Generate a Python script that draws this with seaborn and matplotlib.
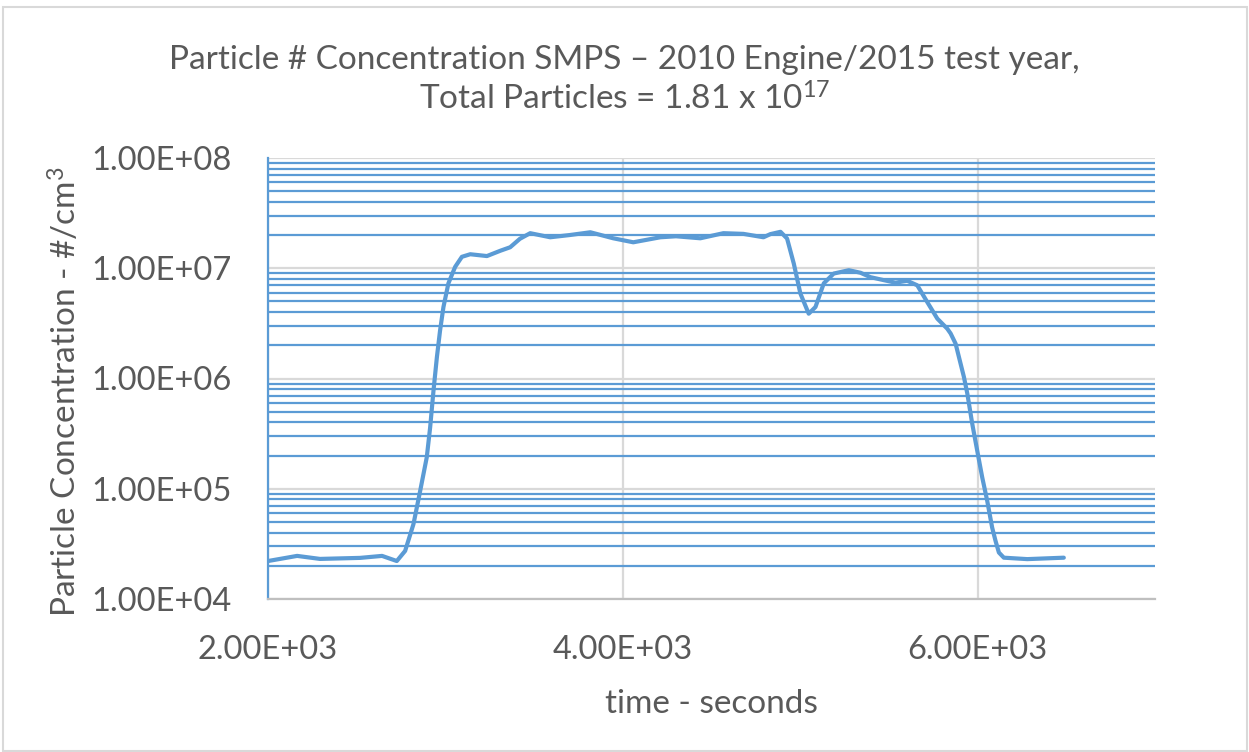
import numpy as np
import pandas as pd
import matplotlib
matplotlib.use("Agg")
import matplotlib.pyplot as plt
from matplotlib.ticker import LogLocator, FuncFormatter, FixedLocator
from matplotlib.patches import Rectangle
import seaborn as sns

# time (s) and particle concentration (#/cm3)
time_s = [2000, 2164, 2293, 2519, 2643, 2726, 2773, 2820, 2858, 2895,
          2914, 2933, 2952, 2970, 2989, 3017, 3055, 3093, 3140, 3196,
          3234, 3309, 3365, 3420, 3478, 3591, 3700, 3817, 3946, 4059,
          4212, 4300, 4437, 4567, 4680, 4793, 4832, 4889, 4926, 4964,
          5001, 5048, 5086, 5133, 5189, 5274, 5340, 5396, 5471, 5537,
          5603, 5660, 5716, 5773, 5829, 5848, 5876, 5895, 5923, 5942,
          5970, 5998, 6026, 6054, 6082, 6101, 6120, 6148, 6280, 6486]
conc = [2.21e4, 2.46e4, 2.31e4, 2.36e4, 2.46e4, 2.21e4, 2.73e4, 4.78e4, 9.6e4, 1.93e5,
        3.6e5, 7.8e5, 1.56e6, 2.73e6, 4.45e6, 7.3e6, 1.03e7, 1.27e7, 1.34e7, 1.31e7,
        1.29e7, 1.44e7, 1.55e7, 1.85e7, 2.08e7, 1.91e7, 2.0e7, 2.12e7, 1.87e7, 1.72e7,
        1.91e7, 1.95e7, 1.87e7, 2.08e7, 2.05e7, 1.91e7, 2.04e7, 2.14e7, 1.86e7, 1.1e7,
        5.9e6, 3.87e6, 4.45e6, 7.3e6, 8.95e6, 9.6e6, 9.1e6, 8.3e6, 7.8e6, 7.4e6,
        7.7e6, 7.0e6, 4.94e6, 3.49e6, 2.83e6, 2.56e6, 2.07e6, 1.56e6, 1.03e6, 7.3e5,
        3.87e5, 2.21e5, 1.27e5, 7.8e4, 4.45e4, 3.37e4, 2.64e4, 2.37e4, 2.3e4, 2.37e4]
x_ticks = [2000, 4000, 6000]

title = "Particle # Concentration SMPS \u2013 2010 Engine/2015 test year,\nTotal Particles = 1.81 x 10$^{17}$"

df = pd.DataFrame({"time": time_s, "conc": conc})

sns.set_style("white")
plt.rcParams["font.family"] = ["Lato", "DejaVu Sans"]
plt.rcParams["mathtext.default"] = "regular"

blue = "#5B9BD5"
grid_gray = "#D9D9D9"
text_col = "#595959"

fig = plt.figure(figsize=(12.49, 7.52), dpi=100)
ax = fig.add_axes([268 / 1249, 1 - 599 / 752, (1155 - 268) / 1249, (599 - 158) / 752])

ax.set_yscale("log")
ax.set_xlim(2000, 7000)
ax.set_ylim(1e4, 1e8)

# gridlines: gray majors, blue minors
ax.yaxis.set_minor_locator(LogLocator(base=10, subs=np.arange(2, 10)))
ax.yaxis.set_minor_formatter(FuncFormatter(lambda v, p: ""))
ax.grid(True, which="major", axis="both", color=grid_gray, lw=1.6, zorder=0)
ax.grid(True, which="minor", axis="y", color=blue, lw=1.6, zorder=0)
ax.set_axisbelow(True)

sns.lineplot(data=df, x="time", y="conc", ax=ax, color=blue, lw=3,
             zorder=3, solid_joinstyle="round", solid_capstyle="round")

ax.xaxis.set_major_locator(FixedLocator(x_ticks))
ax.xaxis.set_major_formatter(FuncFormatter(lambda v, p: f"{v:.2E}"))
ax.yaxis.set_major_formatter(FuncFormatter(lambda v, p: f"{v:.2E}"))
ax.tick_params(axis="both", which="both", length=0, labelsize=23.5, colors=text_col)
ax.tick_params(axis="x", pad=26)
ax.tick_params(axis="y", pad=26)

for s in ["top", "right"]:
    ax.spines[s].set_visible(False)
ax.spines["left"].set_color(blue)
ax.spines["left"].set_linewidth(1.6)
ax.spines["bottom"].set_color("#BFBFBF")
ax.spines["bottom"].set_linewidth(1.6)

ax.set_xlabel("time - seconds", fontsize=24, color=text_col, labelpad=17)
ax.set_ylabel("Particle Concentration - #/cm$^3$", fontsize=24, color=text_col, labelpad=6)
ax.yaxis.label.set_y(0.47)

fig.text(0.5, 0.893, title, ha="center", va="center", fontsize=24,
         color=text_col, linespacing=1.3)

fig.patches.append(Rectangle((3 / 1249, 1 / 752), 1 - 5 / 1249, 1 - 8 / 752,
                             transform=fig.transFigure, fill=False,
                             edgecolor=grid_gray, lw=1.5))

fig.savefig("out.png", dpi=100)
